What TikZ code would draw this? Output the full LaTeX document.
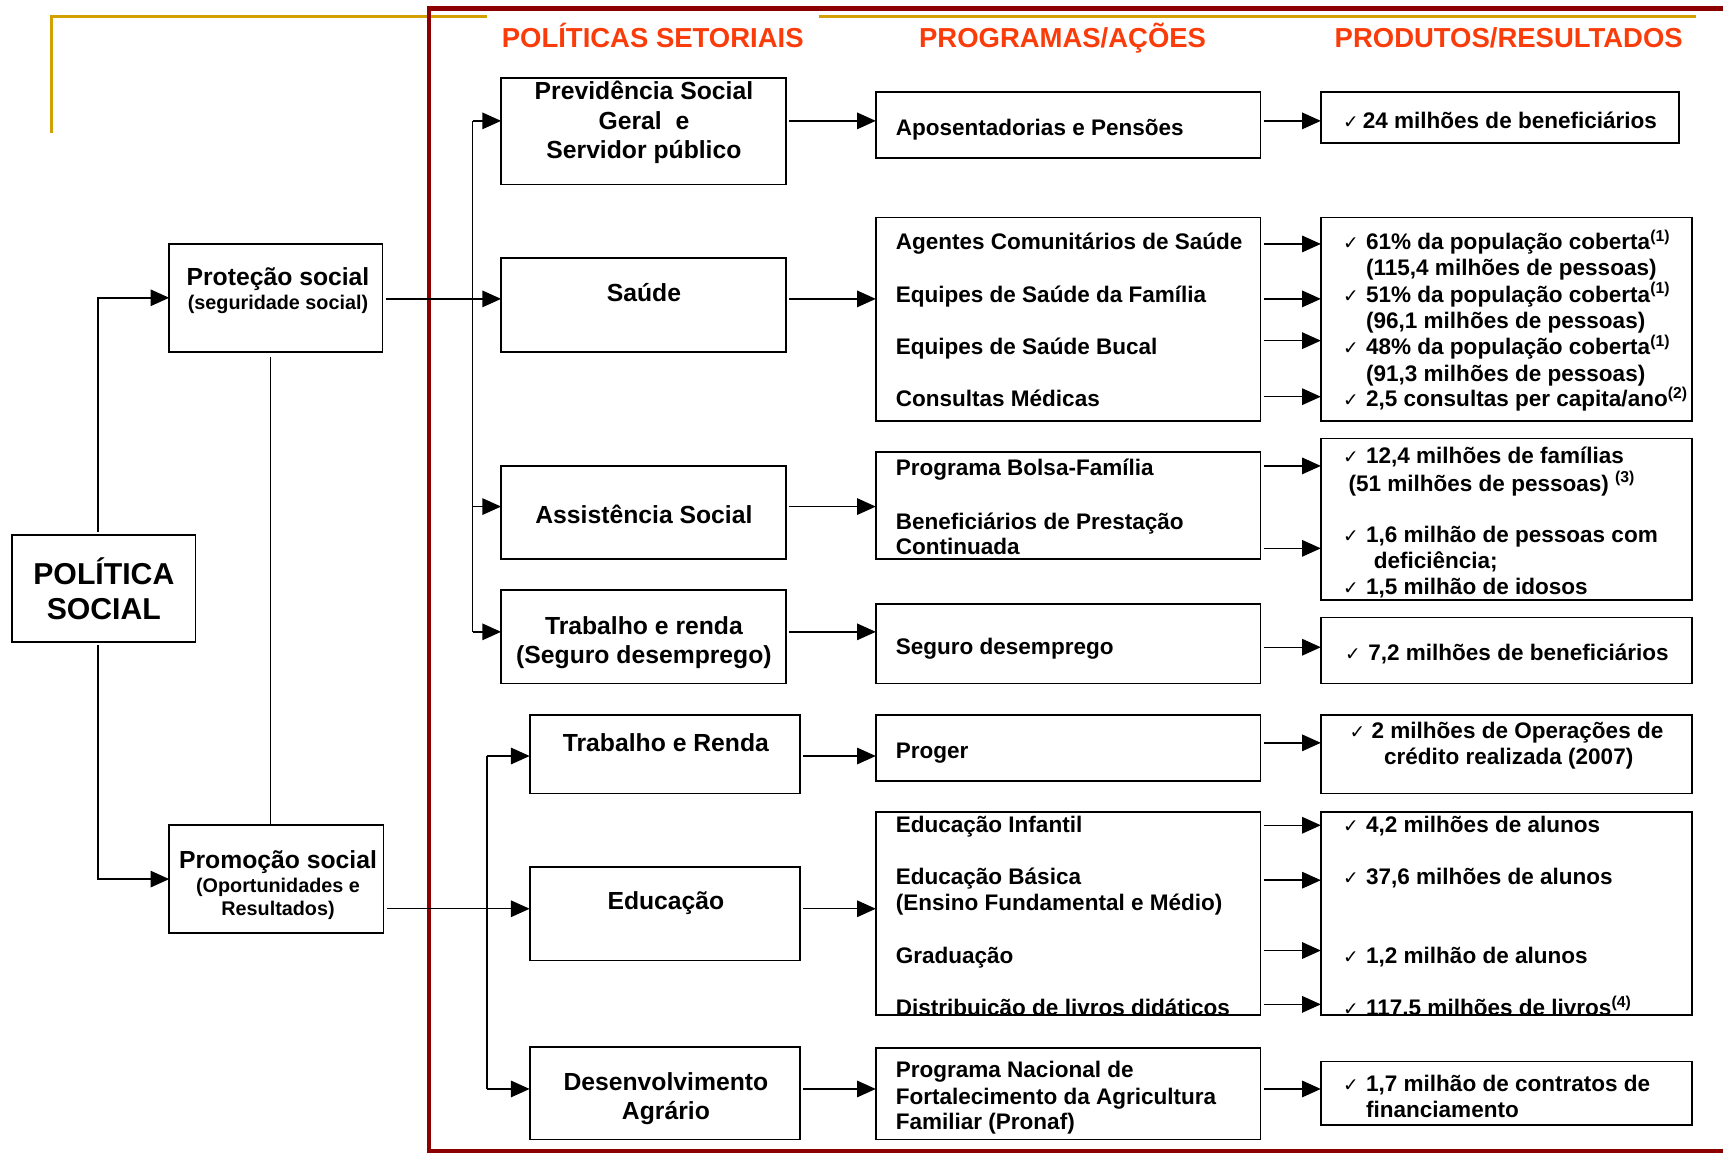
\documentclass[tikz,border=0pt]{standalone}
\usepackage{fontspec}
\setmainfont{Liberation Sans}
\newfontfamily\chkfont{DejaVu Sans}
\usetikzlibrary{arrows.meta}
\definecolor{hdr}{RGB}{250,60,10}
\definecolor{frameRed}{RGB}{140,0,0}
\definecolor{goldLine}{RGB}{210,160,0}
\newcommand{\ck}{{\chkfont\mdseries\fontsize{17}{17}\selectfont ✓}}
\newcommand{\ckl}{\makebox[21pt][l]{\ck}}
\begin{document}
\begin{tikzpicture}[x=1pt,y=-1pt,
  box/.style={draw, line width=1.6pt, inner sep=0pt, outer sep=0pt, rectangle},
  conn/.style={line width=1.3pt},
  arr/.style={conn, shorten <=3pt, -{Triangle[length=17pt,width=15pt]}},
  tl/.style={font=\fontsize{20.5}{24}\selectfont\bfseries, inner sep=0pt, anchor=base west},
  tc/.style={font=\fontsize{20.5}{24}\selectfont\bfseries, inner sep=0pt, anchor=base},
  tp/.style={font=\fontsize{22.5}{26}\selectfont\bfseries, inner sep=0pt, anchor=base},
  ts/.style={font=\fontsize{18}{21}\selectfont\bfseries, inner sep=0pt, anchor=base},
  hd/.style={font=\fontsize{25}{30}\selectfont\bfseries, text=hdr, inner sep=0pt, anchor=base},
]
\useasboundingbox (0,0) rectangle (1568,1049);

% decorative frame lines
\draw[goldLine, line width=3pt] (47,121) -- (47,15) -- (443,15);
\draw[goldLine, line width=3pt] (745,15) -- (1543,15);
\draw[frameRed, line width=4.3pt] (1572,7.6) -- (390.5,7.6) -- (390.5,1047.5) -- (1572,1047.5);

% headings
\node[hd] (h1) at (594,43) {POLÍTICAS SETORIAIS};
\node[hd] (h2) at (967,43) {PROGRAMAS/AÇÕES};
\node[hd] (h3) at (1373,43) {PRODUTOS/RESULTADOS};

% left boxes
\node[box, minimum width=167pt, minimum height=97pt] (ps) at (94.5,535.5) {};
\node[box, minimum width=194pt, minimum height=98pt] (prot) at (251,271) {};
\node[box, minimum width=195pt, minimum height=98pt] (prom) at (251.5,800) {};
% policy boxes
\node[box, minimum width=259pt, minimum height=97pt] (prev) at (585.5,119.5) {};
\node[box, minimum width=259pt, minimum height=85pt] (sau) at (585.5,277.5) {};
\node[box, minimum width=259pt, minimum height=85pt] (ass) at (585.5,466.5) {};
\node[box, minimum width=259pt, minimum height=85pt] (tr1) at (585.5,579.5) {};
\node[box, minimum width=246pt, minimum height=71pt] (tr2) at (605,686.5) {};
\node[box, minimum width=246pt, minimum height=85pt] (edu) at (605,831.5) {};
\node[box, minimum width=246pt, minimum height=84pt] (des) at (605,995) {};
% program boxes
\node[box, minimum width=350pt, minimum height=60pt] (apos) at (972,114) {};
\node[box, minimum width=350pt, minimum height=185pt] (sprog) at (972,290.5) {};
\node[box, minimum width=350pt, minimum height=98pt] (bprog) at (972,460) {};
\node[box, minimum width=350pt, minimum height=72pt] (segp) at (972,586) {};
\node[box, minimum width=350pt, minimum height=60pt] (prog) at (972,681) {};
\node[box, minimum width=350pt, minimum height=185pt] (eprog) at (972,831.5) {};
\node[box, minimum width=350pt, minimum height=83pt] (pron) at (972,995.5) {};
% result boxes
\node[box, minimum width=326pt, minimum height=46pt] (r1) at (1365,107) {};
\node[box, minimum width=338pt, minimum height=185pt] (r2) at (1371,290.5) {};
\node[box, minimum width=338pt, minimum height=147pt] (r3) at (1371,472.5) {};
\node[box, minimum width=338pt, minimum height=60pt] (r4) at (1371,592) {};
\node[box, minimum width=338pt, minimum height=71pt] (r5) at (1371,686.5) {};
\node[box, minimum width=338pt, minimum height=185pt] (r6) at (1371,831.5) {};
\node[box, minimum width=338pt, minimum height=58pt] (r7) at (1371,995) {};

% texts: left
\node[font=\fontsize{27.5}{32}\selectfont\bfseries, inner sep=0pt, anchor=base] (pst1) at (94.5,532) {POLÍTICA};
\node[font=\fontsize{27.5}{32}\selectfont\bfseries, inner sep=0pt, anchor=base] (pst2) at (94.5,564) {SOCIAL};
\node[tp] (prott1) at (253,260) {Proteção social};
\node[ts] (prott2) at (253,282) {(seguridade social)};
\node[tp] (promt1) at (253,790) {Promoção social};
\node[ts] (promt2) at (253,812) {(Oportunidades e};
\node[ts] (promt3) at (253,833) {Resultados)};

% texts: policies
\node[tp] (prevt1) at (586,91) {Previdência Social};
\node[tp] (prevt2) at (586,118) {Geral\ \ e};
\node[tp] (prevt3) at (586,144) {Servidor público};
\node[tp] (saut) at (586,274) {Saúde};
\node[tp] (asst) at (586,476) {Assistência Social};
\node[tp] (tr1t1) at (586,577) {Trabalho e renda};
\node[tp] (tr1t2) at (586,604) {(Seguro desemprego)};
\node[tp] (tr2t) at (606,684) {Trabalho e Renda};
\node[tp] (edut) at (606,828) {Educação};
\node[tp] (dest1) at (606,992) {Desenvolvimento};
\node[tp] (dest2) at (606,1019) {Agrário};

% texts: programs
\node[tl] (pa1) at (815,123) {Aposentadorias e Pensões};
\node[tl] (pb1) at (815,227) {Agentes Comunitários de Saúde};
\node[tl] (pb2) at (815,275) {Equipes de Saúde da Família};
\node[tl] (pb3) at (815,323) {Equipes de Saúde Bucal};
\node[tl] (pb4) at (815,370) {Consultas Médicas};
\node[tl] (pc1) at (815,433) {Programa Bolsa-Família};
\node[tl] (pc2) at (815,482) {Beneficiários de Prestação};
\node[tl] (pc3) at (815,505) {Continuada};
\node[tl] (pd1) at (815,596) {Seguro desemprego};
\node[tl] (pe1) at (815,690) {Proger};
\node[tl] (pf1) at (815,758) {Educação Infantil};
\node[tl] (pf2) at (815,805) {Educação Básica};
\node[tl] (pf3) at (815,829) {(Ensino Fundamental e Médio)};
\node[tl] (pf4) at (815,877) {Graduação};
\begin{scope}
  \clip (eprog.north west) rectangle (eprog.south east);
  \node[tl] (pf5) at (815,924) {Distribuição de livros didáticos};
\end{scope}
\node[tl] (pg1) at (815,981) {Programa Nacional de};
\node[tl] (pg2) at (815,1005) {Fortalecimento da Agricultura};
\node[tl] (pg3) at (815,1028) {Familiar (Pronaf)};

% texts: results
\node[tl] (ra1) at (1222,117) {\makebox[18pt][l]{\ck}24 milhões de beneficiários};
\node[tl] (rb1) at (1222,227) {\ckl 61\% da população coberta\textsuperscript{(1)}};
\node[tl] (rb2) at (1243,251) {(115,4 milhões de pessoas)};
\node[tl] (rb3) at (1222,275) {\ckl 51\% da população coberta\textsuperscript{(1)}};
\node[tl] (rb4) at (1243,299) {(96,1 milhões de pessoas)};
\node[tl] (rb5) at (1222,323) {\ckl 48\% da população coberta\textsuperscript{(1)}};
\node[tl] (rb6) at (1243,347) {(91,3 milhões de pessoas)};
\node[tl] (rb7) at (1222,370) {\ckl 2,5 consultas per capita/ano\textsuperscript{(2)}};
\node[tl] (rc1) at (1222,422) {\ckl 12,4 milhões de famílias};
\node[tl] (rc2) at (1227,447) {(51 milhões de pessoas) \textsuperscript{(3)}};
\node[tl] (rc3) at (1222,494) {\ckl 1,6 milhão de pessoas com};
\node[tl] (rc4) at (1250,517) {deficiência;};
\node[tl] (rc5) at (1222,541) {\ckl 1,5 milhão de idosos};
\node[tl] (rd1) at (1224,601) {\ckl 7,2 milhões de beneficiários};
\node[tc] (re1) at (1371,672) {\ck\ 2 milhões de Operações de};
\node[tc] (re2) at (1373,696) {crédito realizada (2007)};
\node[tl] (rf1) at (1222,758) {\ckl 4,2 milhões de alunos};
\node[tl] (rf2) at (1222,805) {\ckl 37,6 milhões de alunos};
\node[tl] (rf3) at (1222,877) {\ckl 1,2 milhão de alunos};
\begin{scope}
  \clip (r6.north west) rectangle (r6.south east);
  \node[tl] (rf4) at (1222,924) {\ckl 117,5 milhões de livros\textsuperscript{(4)}};
\end{scope}
\node[tl] (rg1) at (1222,993) {\ckl 1,7 milhão de contratos de};
\node[tl] (rg2) at (1243,1017) {financiamento};

% helper coordinates
\coordinate (xL) at (89,0);
\coordinate (xM) at (246,0);
\coordinate (xT1) at (430,0);
\coordinate (xT2) at (443,0);
\foreach \yy in {110,222,272,310,361,424,461,499,575,589,676,688,751,801,827,865,914,991}
  {\coordinate (y\yy) at (0,\yy);}

% left connectors
\draw[arr] (ps.north -| xL) |- (prot.west);
\draw[arr] (ps.south -| xL) |- (prom.west);
\draw[conn, shorten <=5pt] (prot.south -| xM) -- (prom.north -| xM);

% protection trunk
\draw[arr] (prot.east |- y272) -- (sau.west |- y272);
\draw[conn] (xT1 |- y575) -- (xT1 |- y110);
\draw[arr, shorten <=0pt] (xT1 |- y110) -- (prev.west |- y110);
\draw[arr, shorten <=0pt] (xT1 |- y461) -- (ass.west |- y461);
\draw[arr, shorten <=0pt] (xT1 |- y575) -- (tr1.west |- y575);

% promotion trunk
\draw[arr] (prom.east |- y827) -- (edu.west |- y827);
\draw[conn] (xT2 |- y688) -- (xT2 |- y991);
\draw[arr, shorten <=0pt] (xT2 |- y688) -- (tr2.west |- y688);
\draw[arr, shorten <=0pt] (xT2 |- y991) -- (des.west |- y991);

% policy -> program
\draw[arr] (prev.east |- y110) -- (apos.west |- y110);
\draw[arr] (sau.east |- y272) -- (sprog.west |- y272);
\draw[arr] (ass.east |- y461) -- (bprog.west |- y461);
\draw[arr] (tr1.east |- y575) -- (segp.west |- y575);
\draw[arr] (tr2.east |- y688) -- (prog.west |- y688);
\draw[arr] (edu.east |- y827) -- (eprog.west |- y827);
\draw[arr] (des.east |- y991) -- (pron.west |- y991);

% program -> result
\draw[arr] (apos.east |- y110) -- (r1.west |- y110);
\draw[arr] (sprog.east |- y222) -- (r2.west |- y222);
\draw[arr] (sprog.east |- y272) -- (r2.west |- y272);
\draw[arr] (sprog.east |- y310) -- (r2.west |- y310);
\draw[arr] (sprog.east |- y361) -- (r2.west |- y361);
\draw[arr] (bprog.east |- y424) -- (r3.west |- y424);
\draw[arr] (bprog.east |- y499) -- (r3.west |- y499);
\draw[arr] (segp.east |- y589) -- (r4.west |- y589);
\draw[arr] (prog.east |- y676) -- (r5.west |- y676);
\draw[arr] (eprog.east |- y751) -- (r6.west |- y751);
\draw[arr] (eprog.east |- y801) -- (r6.west |- y801);
\draw[arr] (eprog.east |- y865) -- (r6.west |- y865);
\draw[arr] (eprog.east |- y914) -- (r6.west |- y914);
\draw[arr] (pron.east |- y991) -- (r7.west |- y991);
\end{tikzpicture}
\end{document}
